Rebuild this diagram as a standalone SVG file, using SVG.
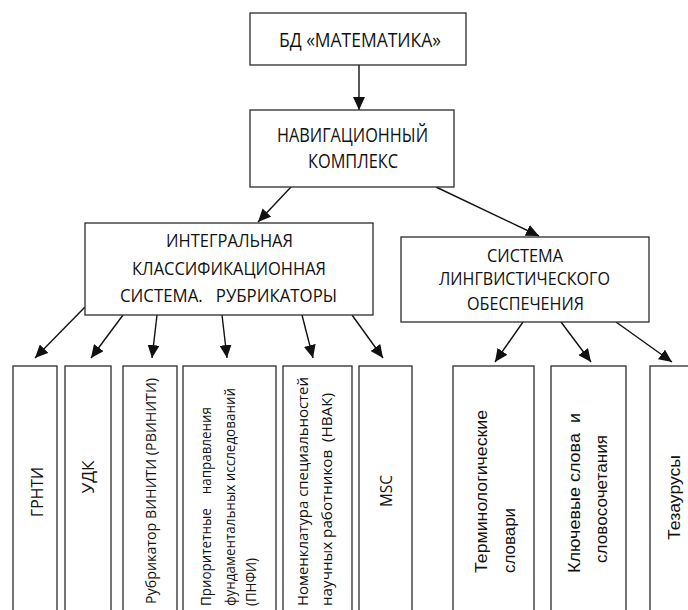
<svg xmlns="http://www.w3.org/2000/svg" width="688" height="610" viewBox="0 0 688 610">
<style>
.box{fill:#fff;stroke:#2b2b2b;stroke-width:1.3}
.t{font-family:"Open Sans","DejaVu Sans",sans-serif;fill:#111;text-anchor:middle;white-space:pre}
.s{font-family:"Open Sans","DejaVu Sans",sans-serif;fill:#111;white-space:pre}
.a{font-family:"Liberation Sans",Arial,sans-serif;fill:#111;white-space:pre}
.c line{stroke:#111;stroke-width:1.4;marker-end:url(#ah)}
</style>
<defs>
<marker id="ah" markerUnits="userSpaceOnUse" markerWidth="14" markerHeight="12" viewBox="0 0 14 12" refX="13" refY="6" orient="auto">
<path d="M0,0 L13,6 L0,12 Z" fill="#111"/>
</marker>
</defs>
<rect width="688" height="610" fill="#fff"/>
<g class="c" id="connectors">
<line x1="359" y1="65" x2="359" y2="110"/>
<line x1="291" y1="187" x2="258" y2="222"/>
<line x1="436" y1="187" x2="539" y2="236"/>
<line x1="85" y1="307" x2="35" y2="358"/>
<line x1="123" y1="315" x2="91" y2="358"/>
<line x1="157" y1="315" x2="152" y2="358"/>
<line x1="222" y1="315" x2="227" y2="358"/>
<line x1="302" y1="315" x2="313" y2="358"/>
<line x1="352" y1="315" x2="383" y2="358"/>
<line x1="523" y1="322" x2="495" y2="362"/>
<line x1="561" y1="322" x2="591" y2="362"/>
<line x1="616" y1="322" x2="672" y2="362"/>
</g>
<g id="bd">
<rect class="box" x="250" y="13" width="216" height="52"/>
<text class="t" x="360" y="47" font-size="19.5" textLength="162" lengthAdjust="spacingAndGlyphs">БД «МАТЕМАТИКА»</text>
</g>
<g id="nav">
<rect class="box" x="250" y="110" width="204" height="77"/>
<text class="t" x="352.5" y="142" font-size="19.5" textLength="151" lengthAdjust="spacingAndGlyphs">НАВИГАЦИОННЫЙ</text>
<text class="t" x="353" y="168" font-size="19.5" textLength="90" lengthAdjust="spacingAndGlyphs">КОМПЛЕКС</text>
</g>
<g id="iks">
<rect class="box" x="85" y="223" width="288" height="92"/>
<text class="t" x="229.5" y="247" font-size="18" textLength="127" lengthAdjust="spacingAndGlyphs">ИНТЕГРАЛЬНАЯ</text>
<text class="t" x="229" y="275" font-size="18" textLength="194" lengthAdjust="spacingAndGlyphs">КЛАССИФИКАЦИОННАЯ</text>
<text class="t" x="228.5" y="302" font-size="18" textLength="217" lengthAdjust="spacingAndGlyphs">СИСТЕМА.   РУБРИКАТОРЫ</text>
</g>
<g id="slo">
<rect class="box" x="401" y="237" width="248" height="85"/>
<text class="t" x="525" y="262" font-size="17.5" textLength="76" lengthAdjust="spacingAndGlyphs">СИСТЕМА</text>
<text class="t" x="524.5" y="285" font-size="17.5" textLength="171" lengthAdjust="spacingAndGlyphs">ЛИНГВИСТИЧЕСКОГО</text>
<text class="t" x="525.5" y="310" font-size="17.5" textLength="117" lengthAdjust="spacingAndGlyphs">ОБЕСПЕЧЕНИЯ</text>
</g>
<g id="grnti">
<rect class="box" x="13" y="366" width="44" height="260"/>
<text class="t" transform="translate(43,492) rotate(-90)" font-size="16" textLength="50" lengthAdjust="spacingAndGlyphs">ГРНТИ</text>
</g>
<g id="udk">
<rect class="box" x="65" y="366" width="46" height="260"/>
<text class="t" transform="translate(94,477) rotate(-90)" font-size="16" textLength="33" lengthAdjust="spacingAndGlyphs">УДК</text>
</g>
<g id="rvin">
<rect class="box" x="123" y="366" width="54" height="260"/>
<text class="s" transform="translate(156,604) rotate(-90)" font-size="15" textLength="226" lengthAdjust="spacingAndGlyphs">Рубрикатор ВИНИТИ (РВИНИТИ)</text>
</g>
<g id="pnfi">
<rect class="box" x="183" y="366" width="93" height="260"/>
<text class="s" transform="translate(211,606) rotate(-90)" font-size="14.5" textLength="199" lengthAdjust="spacingAndGlyphs">Приоритетные    направления</text>
<text class="s" transform="translate(235,606) rotate(-90)" font-size="14.5" textLength="218" lengthAdjust="spacingAndGlyphs">фундаментальных исследований</text>
<text class="s" transform="translate(256,606) rotate(-90)" font-size="14.5" textLength="48" lengthAdjust="spacingAndGlyphs">(ПНФИ)</text>
</g>
<g id="nvak">
<rect class="box" x="283" y="366" width="69" height="260"/>
<text class="s" transform="translate(308,606) rotate(-90)" font-size="15" textLength="229" lengthAdjust="spacingAndGlyphs">Номенклатура специальностей</text>
<text class="s" transform="translate(332,606) rotate(-90)" font-size="15" textLength="213" lengthAdjust="spacingAndGlyphs">научных работников  (НВАК)</text>
</g>
<g id="msc">
<rect class="box" x="359" y="366" width="53" height="260"/>
<text class="t" transform="translate(392,491) rotate(-90)" font-size="16" textLength="32" lengthAdjust="spacingAndGlyphs">MSC</text>
</g>
<g id="term">
<rect class="box" x="453" y="366" width="81" height="260"/>
<text class="a" transform="translate(487,573) rotate(-90)" font-size="16" textLength="163" lengthAdjust="spacingAndGlyphs">Терминологические</text>
<text class="a" transform="translate(515,573) rotate(-90)" font-size="16" textLength="65" lengthAdjust="spacingAndGlyphs">словари</text>
</g>
<g id="kw">
<rect class="box" x="551" y="366" width="75" height="260"/>
<text class="a" transform="translate(580,573) rotate(-90)" font-size="16" textLength="160" lengthAdjust="spacingAndGlyphs">Ключевые слова  и</text>
<text class="a" transform="translate(607,563) rotate(-90)" font-size="16" textLength="128" lengthAdjust="spacingAndGlyphs">словосочетания</text>
</g>
<g id="thes">
<rect class="box" x="650" y="366" width="60" height="260"/>
<text class="a" transform="translate(680,540) rotate(-90)" font-size="16" textLength="85" lengthAdjust="spacingAndGlyphs">Тезаурусы</text>
</g>
</svg>
